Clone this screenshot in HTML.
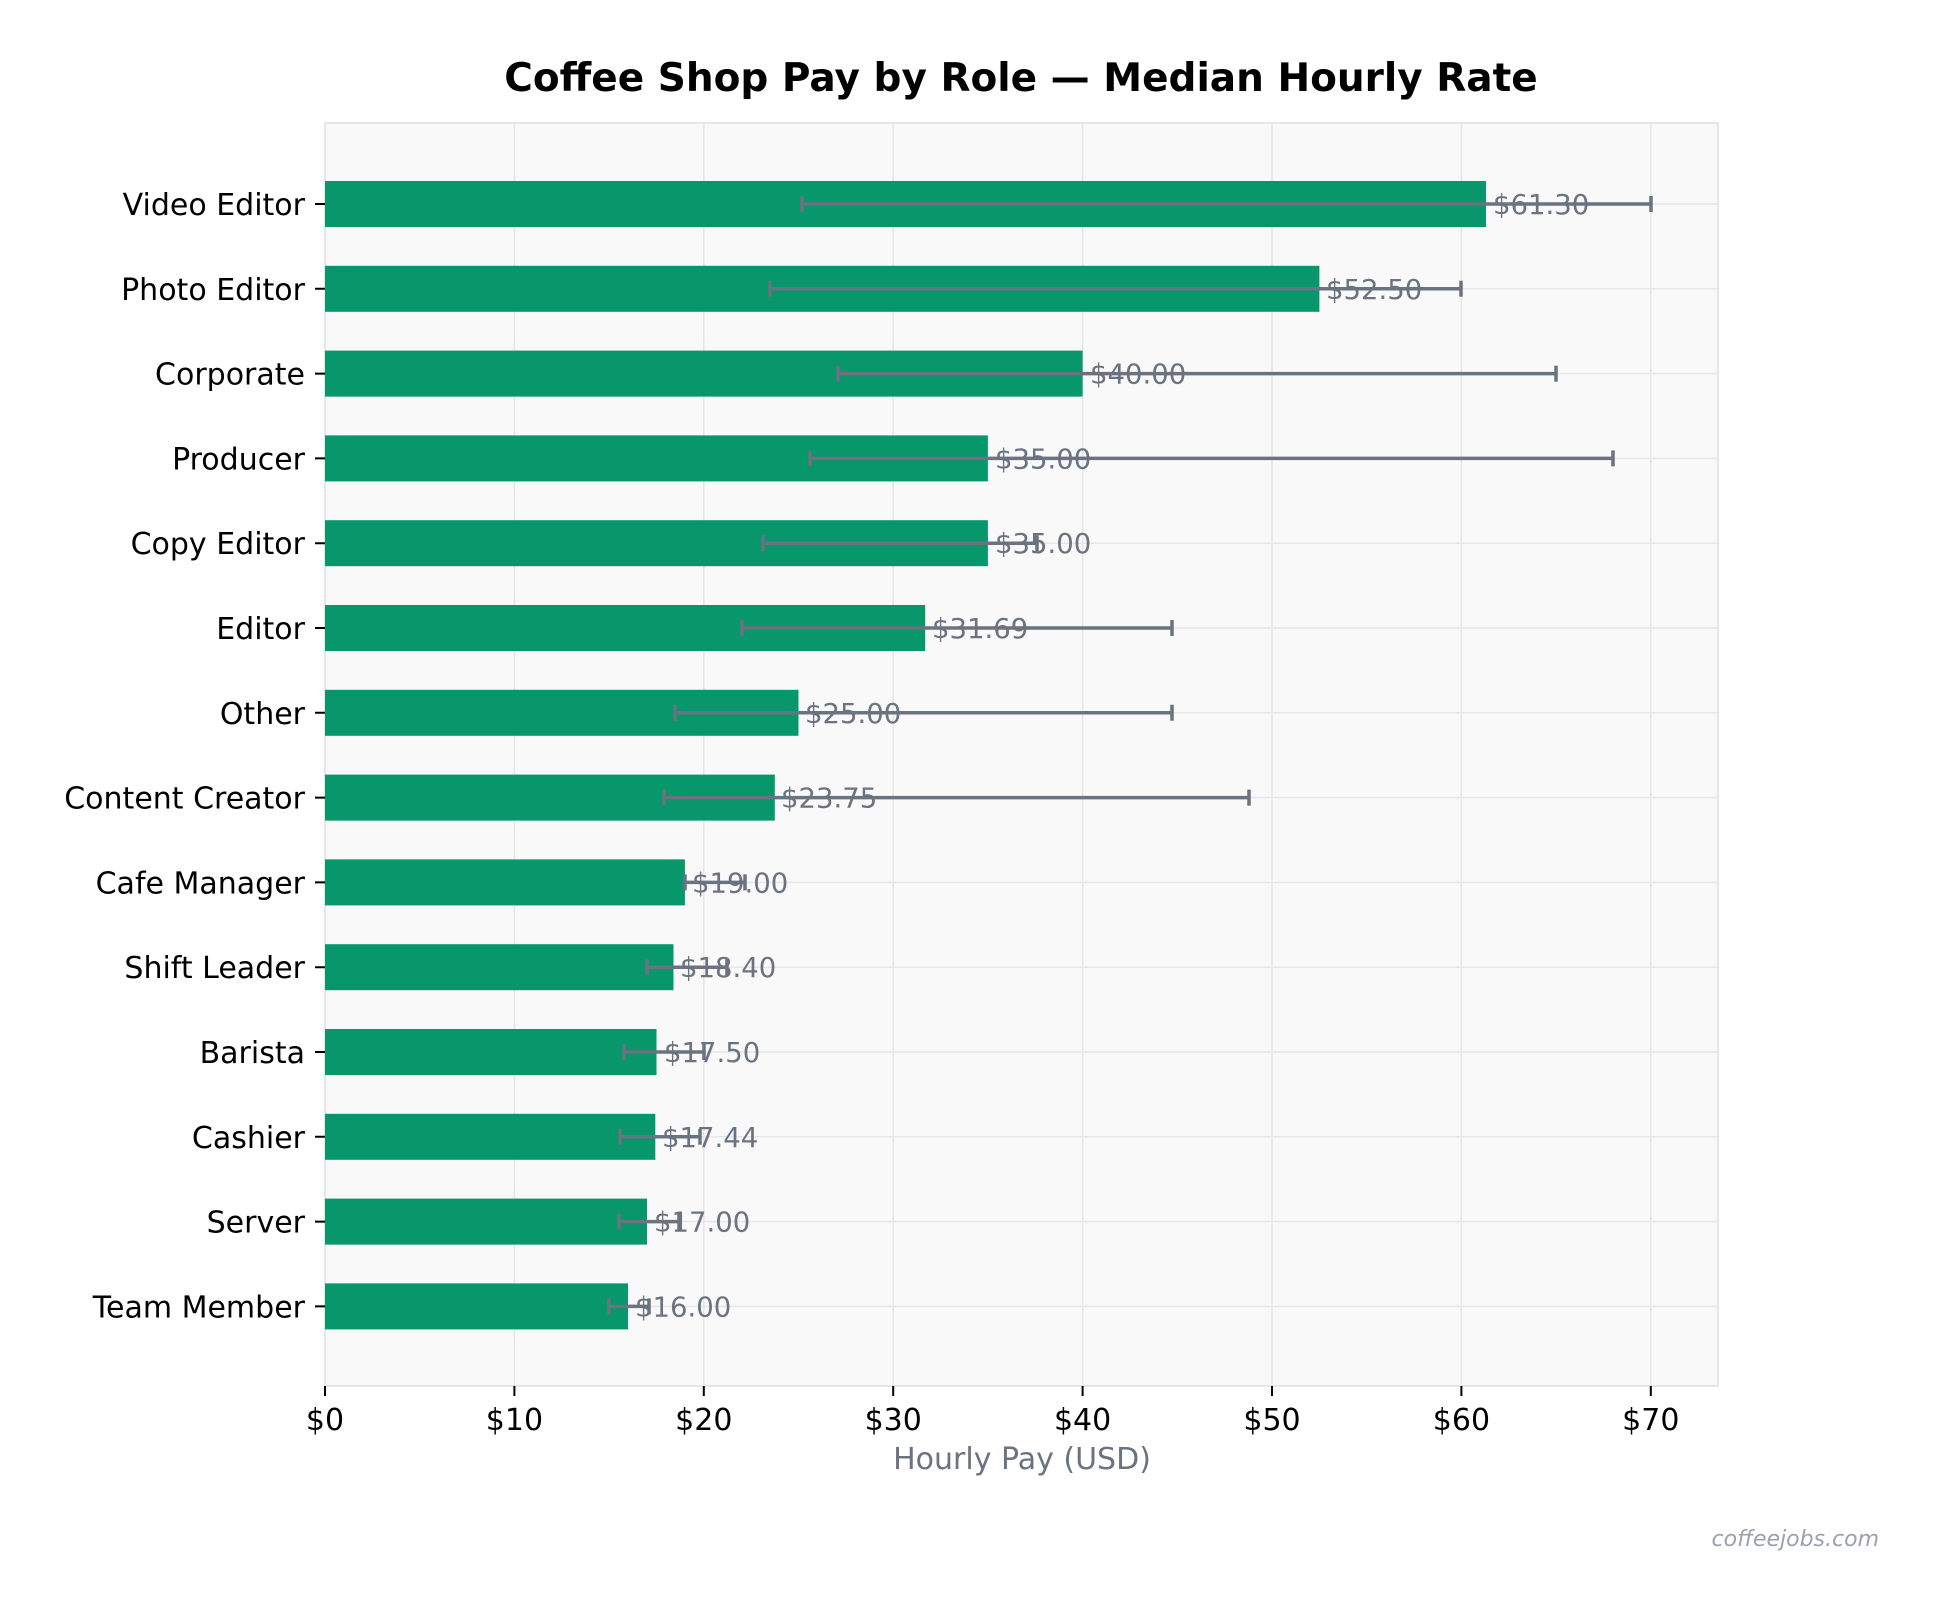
<!DOCTYPE html>
<html><head><meta charset="utf-8"><style>
html,body{margin:0;padding:0;background:#fff;}
svg{display:block;font-family:"DejaVu Sans","Liberation Sans",sans-serif;}
</style></head><body>
<svg width="1941" height="1610" viewBox="0 0 1941 1610" xmlns="http://www.w3.org/2000/svg">
<rect width="1941" height="1610" fill="#fff"/>
<text x="1021" y="91" text-anchor="middle" font-size="39" font-weight="bold" fill="#000">Coffee Shop Pay by Role — Median Hourly Rate</text>
<rect x="325" y="123" width="1393" height="1263" fill="#f9f9f9" stroke="#e5e5ea" stroke-width="2"/>
<g stroke="#e6e6ea" stroke-width="1.5">
<line x1="514.4" y1="123" x2="514.4" y2="1386"/><line x1="703.8" y1="123" x2="703.8" y2="1386"/>
<line x1="893.2" y1="123" x2="893.2" y2="1386"/><line x1="1082.6" y1="123" x2="1082.6" y2="1386"/>
<line x1="1272" y1="123" x2="1272" y2="1386"/><line x1="1461.4" y1="123" x2="1461.4" y2="1386"/>
<line x1="1650.8" y1="123" x2="1650.8" y2="1386"/>
<line x1="325" y1="204" x2="1718" y2="204"/><line x1="325" y1="288.8" x2="1718" y2="288.8"/>
<line x1="325" y1="373.6" x2="1718" y2="373.6"/><line x1="325" y1="458.4" x2="1718" y2="458.4"/>
<line x1="325" y1="543.2" x2="1718" y2="543.2"/><line x1="325" y1="628" x2="1718" y2="628"/>
<line x1="325" y1="712.8" x2="1718" y2="712.8"/><line x1="325" y1="797.6" x2="1718" y2="797.6"/>
<line x1="325" y1="882.4" x2="1718" y2="882.4"/><line x1="325" y1="967.2" x2="1718" y2="967.2"/>
<line x1="325" y1="1052" x2="1718" y2="1052"/><line x1="325" y1="1136.8" x2="1718" y2="1136.8"/>
<line x1="325" y1="1221.6" x2="1718" y2="1221.6"/><line x1="325" y1="1306.4" x2="1718" y2="1306.4"/>
</g>
<g fill="#07976a">
<rect x="325" y="181" width="1161" height="46"/>
<rect x="325" y="265.8" width="994.4" height="46"/>
<rect x="325" y="350.6" width="757.6" height="46"/>
<rect x="325" y="435.4" width="662.9" height="46"/>
<rect x="325" y="520.2" width="662.9" height="46"/>
<rect x="325" y="605" width="600.2" height="46"/>
<rect x="325" y="689.8" width="473.5" height="46"/>
<rect x="325" y="774.6" width="449.8" height="46"/>
<rect x="325" y="859.4" width="359.9" height="46"/>
<rect x="325" y="944.2" width="348.5" height="46"/>
<rect x="325" y="1029" width="331.5" height="46"/>
<rect x="325" y="1113.8" width="330.3" height="46"/>
<rect x="325" y="1198.6" width="322" height="46"/>
<rect x="325" y="1283.4" width="303" height="46"/>
</g>
<g stroke="#6b7280" stroke-width="3.5" fill="none">
<path d="M802 204H1651M802 196v16M1651 196v16"/>
<path d="M770 288.8H1461M770 280.8v16M1461 280.8v16"/>
<path d="M838 373.6H1556M838 365.6v16M1556 365.6v16"/>
<path d="M810 458.4H1613M810 450.4v16M1613 450.4v16"/>
<path d="M763 543.2H1037M763 535.2v16M1037 535.2v16"/>
<path d="M742 628H1172M742 620v16M1172 620v16"/>
<path d="M675 712.8H1172M675 704.8v16M1172 704.8v16"/>
<path d="M664 797.6H1249M664 789.6v16M1249 789.6v16"/>
<path d="M685 882.4H745M685 874.4v16M745 874.4v16"/>
<path d="M647 967.2H727M647 959.2v16M727 959.2v16"/>
<path d="M624 1052H704M624 1044v16M704 1044v16"/>
<path d="M620 1136.8H700M620 1128.8v16M700 1128.8v16"/>
<path d="M619 1221.6H679M619 1213.6v16M679 1213.6v16"/>
<path d="M609 1306.4H649M609 1298.4v16M649 1298.4v16"/>
</g>
<g font-size="27.5" fill="#6b7280">
<text x="1493" y="214">$61.30</text>
<text x="1326" y="298.8">$52.50</text>
<text x="1090" y="383.6">$40.00</text>
<text x="995" y="468.4">$35.00</text>
<text x="995" y="553.2">$35.00</text>
<text x="932" y="638">$31.69</text>
<text x="805" y="722.8">$25.00</text>
<text x="781" y="807.6">$23.75</text>
<text x="692" y="892.4">$19.00</text>
<text x="680" y="977.2">$18.40</text>
<text x="664" y="1062">$17.50</text>
<text x="662" y="1146.8">$17.44</text>
<text x="654" y="1231.6">$17.00</text>
<text x="635" y="1316.4">$16.00</text>
</g>
<g font-size="30" fill="#000" text-anchor="end">
<text x="305" y="215">Video Editor</text>
<text x="305" y="299.8">Photo Editor</text>
<text x="305" y="384.6">Corporate</text>
<text x="305" y="469.4">Producer</text>
<text x="305" y="554.2">Copy Editor</text>
<text x="305" y="639">Editor</text>
<text x="305" y="723.8">Other</text>
<text x="305" y="808.6">Content Creator</text>
<text x="305" y="893.4">Cafe Manager</text>
<text x="305" y="978.2">Shift Leader</text>
<text x="305" y="1063">Barista</text>
<text x="305" y="1147.8">Cashier</text>
<text x="305" y="1232.6">Server</text>
<text x="305" y="1317.4">Team Member</text>
</g>
<g stroke="#000" stroke-width="2">
<path d="M315 204h10M315 288.8h10M315 373.6h10M315 458.4h10M315 543.2h10M315 628h10M315 712.8h10M315 797.6h10M315 882.4h10M315 967.2h10M315 1052h10M315 1136.8h10M315 1221.6h10M315 1306.4h10"/>
<path d="M325 1386v10M514.4 1386v10M703.8 1386v10M893.2 1386v10M1082.6 1386v10M1272 1386v10M1461.4 1386v10M1650.8 1386v10"/>
</g>
<g font-size="30" fill="#000" text-anchor="middle">
<text x="325" y="1430">$0</text><text x="514.4" y="1430">$10</text><text x="703.8" y="1430">$20</text>
<text x="893.2" y="1430">$30</text><text x="1082.6" y="1430">$40</text><text x="1272" y="1430">$50</text>
<text x="1461.4" y="1430">$60</text><text x="1650.8" y="1430">$70</text>
</g>
<text x="1022" y="1469" text-anchor="middle" font-size="30" fill="#6b7280">Hourly Pay (USD)</text>
<text x="1879" y="1546" text-anchor="end" font-size="22" font-style="italic" fill="#9aa1ae">coffeejobs.com</text>
</svg>
</body></html>
